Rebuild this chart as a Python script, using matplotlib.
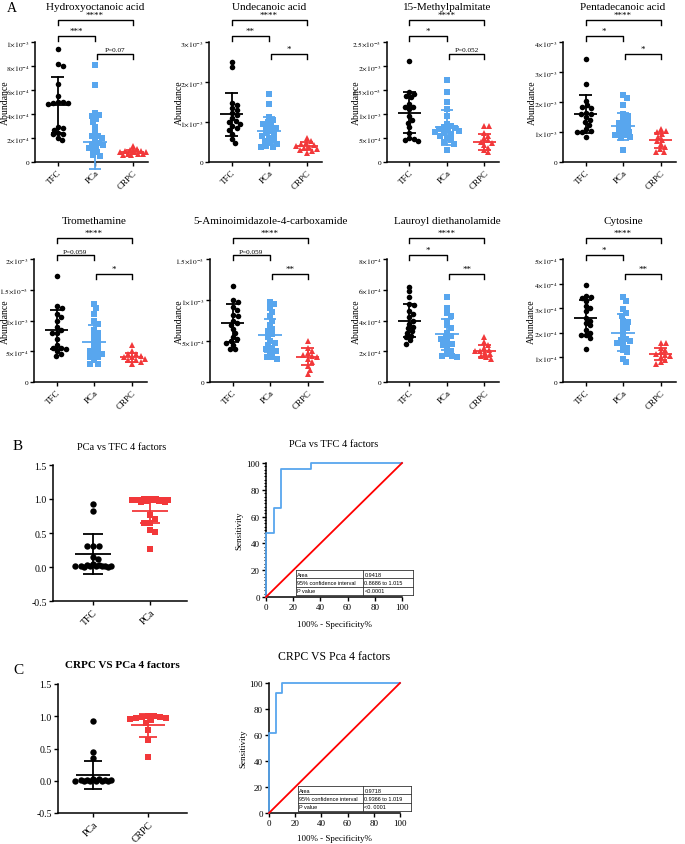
import numpy as np
import matplotlib
matplotlib.use('Agg')
import matplotlib.pyplot as plt
from matplotlib.patches import Rectangle

plt.rcParams['font.family'] = ['Liberation Serif', 'DejaVu Serif']
plt.rcParams['mathtext.fontset'] = 'stix'

W, H = 685, 845
fig = plt.figure(figsize=(W / 100, H / 100), dpi=100)

BLACK = '#000000'
BLUE = '#58A6EE'
RED = '#F2383A'

groups = ['TFC', 'PCa', 'CRPC']

# ---------------- data (panel A) ----------------
hydroxy_title = 'Hydroxyoctanoic acid'
hydroxy_scale = 1e-3
hydroxy_tfc = [0.94, 0.815, 0.80, 0.65, 0.55, 0.50, 0.50, 0.49, 0.49, 0.48, 0.29, 0.28, 0.27, 0.24, 0.23, 0.23, 0.20, 0.18]
hydroxy_pca = [0.81, 0.64, 0.41, 0.39, 0.38, 0.36, 0.33, 0.29, 0.25, 0.22, 0.22, 0.20, 0.18, 0.16, 0.15, 0.14, 0.13, 0.12, 0.10, 0.08, 0.06, 0.05]
hydroxy_crpc = [0.13, 0.11, 0.10, 0.09, 0.09, 0.08, 0.08, 0.08, 0.07, 0.07, 0.07, 0.06, 0.06]
hydroxy_mean = [0.475, 0.17, 0.083]
hydroxy_sd = [0.23, 0.23, 0.02]
hydroxy_ticks = [0, 0.2, 0.4, 0.6, 0.8, 1.0]
hydroxy_ticklabels = ['0', '2|-4', '4|-4', '6|-4', '8|-4', '1|-3']
hydroxy_sig = ['****', '***', 'P=0.07']

undec_title = 'Undecanoic acid'
undec_scale = 1e-3
undec_tfc = [2.50, 2.37, 1.47, 1.43, 1.35, 1.30, 1.22, 1.18, 1.10, 1.03, 1.00, 0.95, 0.90, 0.85, 0.80, 0.70, 0.57, 0.48]
undec_pca = [1.70, 1.45, 1.12, 1.05, 1.00, 0.95, 0.90, 0.85, 0.85, 0.78, 0.72, 0.70, 0.65, 0.60, 0.55, 0.52, 0.48, 0.45, 0.40, 0.38, 0.37]
undec_crpc = [0.60, 0.52, 0.48, 0.45, 0.42, 0.40, 0.38, 0.36, 0.33, 0.30, 0.28, 0.22]
undec_mean = [1.19, 0.78, 0.40]
undec_sd = [0.53, 0.34, 0.10]
undec_ticks = [0, 1, 2, 3]
undec_ticklabels = ['0', '1|-3', '2|-3', '3|-3']
undec_sig = ['****', '**', '*']

methyl_title = '15-Methylpalmitate'
methyl_scale = 1e-3
methyl_tfc = [2.10, 1.46, 1.42, 1.38, 1.35, 1.20, 1.15, 1.15, 1.10, 0.95, 0.88, 0.82, 0.72, 0.60, 0.50, 0.48, 0.45, 0.43]
methyl_pca = [1.70, 1.45, 1.25, 1.10, 0.95, 0.80, 0.75, 0.72, 0.70, 0.68, 0.66, 0.65, 0.63, 0.60, 0.58, 0.55, 0.50, 0.45, 0.42, 0.38, 0.25]
methyl_crpc = [0.75, 0.74, 0.60, 0.55, 0.50, 0.45, 0.42, 0.40, 0.35, 0.30, 0.25, 0.20]
methyl_mean = [1.03, 0.72, 0.42]
methyl_sd = [0.42, 0.36, 0.17]
methyl_ticks = [0, 0.5, 1.0, 1.5, 2.0, 2.5]
methyl_ticklabels = ['0', '5|-4', '1|-3', '1.5|-3', '2|-3', '2.5|-3']
methyl_sig = ['****', '*', 'P=0.052']

penta_title = 'Pentadecanoic acid'
penta_scale = 1e-3
penta_tfc = [3.45, 2.60, 2.05, 1.90, 1.85, 1.80, 1.65, 1.60, 1.60, 1.50, 1.40, 1.35, 1.25, 1.10, 1.05, 1.00, 1.00, 0.85]
penta_pca = [2.25, 2.15, 1.90, 1.60, 1.55, 1.40, 1.35, 1.30, 1.20, 1.15, 1.10, 1.05, 1.00, 0.95, 0.90, 0.90, 0.85, 0.80, 0.40]
penta_crpc = [1.10, 1.05, 1.00, 0.95, 0.85, 0.75, 0.70, 0.60, 0.50, 0.45, 0.35, 0.35]
penta_mean = [1.60, 1.20, 0.72]
penta_sd = [0.64, 0.45, 0.25]
penta_ticks = [0, 1, 2, 3, 4]
penta_ticklabels = ['0', '1|-3', '2|-3', '3|-3', '4|-3']
penta_sig = ['****', '*', '*']

trometh_title = 'Tromethamine'
trometh_scale = 1e-3
trometh_tfc = [1.72, 1.23, 1.20, 1.10, 1.05, 1.00, 0.90, 0.85, 0.80, 0.80, 0.70, 0.60, 0.55, 0.55, 0.53, 0.50, 0.45, 0.42]
trometh_pca = [1.27, 1.20, 1.10, 1.00, 0.95, 0.85, 0.80, 0.75, 0.70, 0.65, 0.60, 0.55, 0.50, 0.50, 0.45, 0.45, 0.40, 0.40, 0.35, 0.30, 0.30]
trometh_crpc = [0.60, 0.50, 0.45, 0.45, 0.42, 0.40, 0.40, 0.38, 0.36, 0.35, 0.33, 0.30]
trometh_mean = [0.85, 0.65, 0.40]
trometh_sd = [0.32, 0.27, 0.07]
trometh_ticks = [0, 0.5, 1.0, 1.5, 2.0]
trometh_ticklabels = ['0', '5|-4', '1|-3', '1.5|-3', '2|-3']
trometh_sig = ['****', 'P=0.059', '*']

aica_title = '5-Aminoimidazole-4-carboxamide'
aica_scale = 1e-3
aica_tfc = [1.17, 1.00, 0.98, 0.92, 0.88, 0.82, 0.80, 0.75, 0.72, 0.70, 0.65, 0.60, 0.55, 0.52, 0.50, 0.48, 0.45, 0.40, 0.40]
aica_pca = [0.98, 0.95, 0.90, 0.85, 0.80, 0.75, 0.70, 0.65, 0.62, 0.58, 0.55, 0.50, 0.48, 0.45, 0.42, 0.40, 0.38, 0.35, 0.30, 0.30, 0.28]
aica_crpc = [0.50, 0.42, 0.38, 0.35, 0.33, 0.32, 0.30, 0.28, 0.25, 0.20, 0.15, 0.10]
aica_mean = [0.72, 0.57, 0.31]
aica_sd = [0.23, 0.20, 0.10]
aica_ticks = [0, 0.5, 1.0, 1.5]
aica_ticklabels = ['0', '5|-4', '1|-3', '1.5|-3']
aica_sig = ['****', 'P=0.059', '**']

lauroyl_title = 'Lauroyl diethanolamide'
lauroyl_scale = 1e-4
lauroyl_tfc = [6.2, 5.9, 5.5, 5.1, 5.0, 4.6, 4.4, 4.2, 4.0, 3.8, 3.6, 3.5, 3.3, 3.2, 3.0, 2.9, 2.7, 2.5]
lauroyl_pca = [5.5, 4.8, 4.5, 4.3, 4.0, 3.7, 3.5, 3.2, 3.0, 2.9, 2.8, 2.6, 2.5, 2.4, 2.2, 2.0, 1.8, 1.7, 1.7, 1.6]
lauroyl_crpc = [2.9, 2.6, 2.4, 2.2, 2.1, 2.0, 2.0, 1.9, 1.8, 1.7, 1.6, 1.5]
lauroyl_mean = [4.0, 3.1, 2.0]
lauroyl_sd = [1.1, 1.0, 0.4]
lauroyl_ticks = [0, 2, 4, 6, 8]
lauroyl_ticklabels = ['0', '2|-4', '4|-4', '6|-4', '8|-4']
lauroyl_sig = ['****', '*', '**']

cyto_title = 'Cytosine'
cyto_scale = 1e-4
cyto_tfc = [3.95, 3.50, 3.45, 3.40, 3.30, 3.10, 3.00, 2.90, 2.60, 2.50, 2.40, 2.30, 2.10, 2.00, 1.90, 1.90, 1.80, 1.35]
cyto_pca = [3.45, 3.30, 2.95, 2.80, 2.70, 2.50, 2.45, 2.30, 2.20, 2.10, 1.90, 1.75, 1.70, 1.65, 1.60, 1.50, 1.40, 1.30, 1.20, 0.95, 0.80]
cyto_crpc = [1.60, 1.60, 1.40, 1.30, 1.20, 1.15, 1.10, 1.05, 1.00, 0.90, 0.80, 0.75]
cyto_mean = [2.60, 2.00, 1.15]
cyto_sd = [0.75, 0.75, 0.25]
cyto_ticks = [0, 1, 2, 3, 4, 5]
cyto_ticklabels = ['0', '1|-4', '2|-4', '3|-4', '4|-4', '5|-4']
cyto_sig = ['****', '*', '**']

# ---------------- data (panels B, C) ----------------
b_title = 'PCa vs TFC 4 factors'
b_groups = ['TFC', 'PCa']
b_tfc = [0.93, 0.82, 0.31, 0.31, 0.31, 0.15, 0.12, 0.04, 0.03, 0.03, 0.02, 0.02, 0.02, 0.01, 0.01, 0.01, 0.01, 0.0, 0.0]
b_pca = [1.0, 1.0, 1.0, 0.99, 0.99, 0.99, 0.98, 0.98, 0.97, 0.97, 0.96, 0.96, 0.76, 0.71, 0.65, 0.64, 0.55, 0.52, 0.27]
b_mean = [0.19, 0.83]
b_sd = [0.29, 0.19]
b_roc_fpr = [0, 0, 5.6, 5.6, 11.1, 11.1, 33.3, 33.3, 100]
b_roc_tpr = [0, 47.6, 47.6, 66.7, 66.7, 95.2, 95.2, 100, 100]
b_roc_table = [['Area', '0.9418'], ['95% confidence interval', '0.8686 to 1.015'], ['P value', '<0.0001']]

c_title = 'CRPC VS PCa 4 factors'
c_roc_title = 'CRPC VS Pca 4 factors'
c_groups = ['PCa', 'CRPC']
c_pca = [0.92, 0.45, 0.35, 0.02, 0.02, 0.01, 0.01, 0.01, 0.01, 0.0, 0.0, 0.0, 0.0, 0.0, 0.0]
c_crpc = [1.0, 1.0, 0.99, 0.99, 0.98, 0.97, 0.96, 0.94, 0.90, 0.78, 0.63, 0.37]
c_mean = [0.09, 0.86]
c_sd = [0.22, 0.18]
c_roc_fpr = [0, 0, 5, 5, 10, 10, 100]
c_roc_tpr = [0, 61.5, 61.5, 92.3, 92.3, 100, 100]
c_roc_table = [['Area', '0.9718'], ['95% confidence interval', '0.9366 to 1.019'], ['P value', '<0. 0001']]


# ---------------- helpers ----------------
def sci(lbl):
    if '|' not in lbl:
        return lbl
    m, e = lbl.split('|')
    return r'$%s{\times}10^{%s}$' % (m, e)


def add_ax(l, t, r, b):
    ax = fig.add_axes([l / W, 1 - b / H, (r - l) / W, (b - t) / H])
    ax._px = (l, t, r, b)
    return ax


def swarm(vals, ylo, yhi, hpx, unit_px, d, maxoff):
    """Beeswarm offsets computed in pixel space, capped at +-maxoff px."""
    v = np.asarray(vals, float)
    py = (v - ylo) / (yhi - ylo) * hpx
    order = np.argsort(-py)
    placed = []
    xs = np.zeros(len(v))
    step = 1.0
    cands = [0.0]
    k = 1
    while k * step <= maxoff:
        cands += [k * step, -k * step]
        k += 1
    thr = (d * 0.9) ** 2
    for i in order:
        best, bestd = 0.0, -1
        chosen = None
        for c in cands:
            md = min([(c - qx) ** 2 + (py[i] - qy) ** 2 for (qx, qy) in placed] or [1e9])
            if md >= thr:
                chosen = c
                break
            if md > bestd:
                bestd, best = md, c
        if chosen is None:
            chosen = best
        xs[i] = chosen
        placed.append((chosen, py[i]))
    return xs / unit_px


def style_axes(ax):
    for s in ['top', 'right']:
        ax.spines[s].set_visible(False)
    for s in ['left', 'bottom']:
        ax.spines[s].set_linewidth(1.1)
    ax.tick_params(width=1.0, length=3, direction='out', pad=1.5)


def dot_panel(ax, datas, means, sds, colors, markers, ylim, xlim, ms, dpx, maxoff):
    l, t, r, b = ax._px
    hpx = b - t
    unit_px = (r - l) / (xlim[1] - xlim[0])
    for i, (d, mu, sd, c, mk) in enumerate(zip(datas, means, sds, colors, markers)):
        off = swarm(d, ylim[0], ylim[1], hpx, unit_px, dpx, maxoff)
        ax.plot(i + off, d, linestyle='none', marker=mk, color=c, ms=ms,
                markeredgewidth=0, clip_on=False, zorder=3)
        ax.plot([i - 0.31, i + 0.31], [mu, mu], color=c, lw=1.3, zorder=4,
                solid_capstyle='butt', clip_on=False)
        ax.plot([i, i], [mu - sd, mu + sd], color=c, lw=1.3, zorder=4, clip_on=False)
        for yy in (mu - sd, mu + sd):
            ax.plot([i - 0.17, i + 0.17], [yy, yy], color=c, lw=1.3, zorder=4,
                    solid_capstyle='butt', clip_on=False)
    ax.set_xlim(*xlim)
    ax.set_ylim(*ylim)


def bracket(ax, x0, x1, ypx, text, fs, tick=5):
    l, t, r, b = ax._px
    hpx = b - t
    ay = (b - ypx) / hpx
    dy = tick / hpx
    trans = ax.get_xaxis_transform()
    ax.plot([x0, x0, x1, x1], [ay - dy, ay, ay, ay - dy], transform=trans, color='k', lw=1.0,
            clip_on=False)
    ax.text((x0 + x1) / 2, ay + 1.5 / hpx, text, transform=trans, ha='center', va='bottom',
            fontsize=fs, clip_on=False)


# ---------------- panel A ----------------
panels = [
    (hydroxy_title, hydroxy_scale, hydroxy_tfc, hydroxy_pca, hydroxy_crpc, hydroxy_mean, hydroxy_sd,
     hydroxy_ticks, hydroxy_ticklabels, hydroxy_sig),
    (undec_title, undec_scale, undec_tfc, undec_pca, undec_crpc, undec_mean, undec_sd,
     undec_ticks, undec_ticklabels, undec_sig),
    (methyl_title, methyl_scale, methyl_tfc, methyl_pca, methyl_crpc, methyl_mean, methyl_sd,
     methyl_ticks, methyl_ticklabels, methyl_sig),
    (penta_title, penta_scale, penta_tfc, penta_pca, penta_crpc, penta_mean, penta_sd,
     penta_ticks, penta_ticklabels, penta_sig),
    (trometh_title, trometh_scale, trometh_tfc, trometh_pca, trometh_crpc, trometh_mean, trometh_sd,
     trometh_ticks, trometh_ticklabels, trometh_sig),
    (aica_title, aica_scale, aica_tfc, aica_pca, aica_crpc, aica_mean, aica_sd,
     aica_ticks, aica_ticklabels, aica_sig),
    (lauroyl_title, lauroyl_scale, lauroyl_tfc, lauroyl_pca, lauroyl_crpc, lauroyl_mean, lauroyl_sd,
     lauroyl_ticks, lauroyl_ticklabels, lauroyl_sig),
    (cyto_title, cyto_scale, cyto_tfc, cyto_pca, cyto_crpc, cyto_mean, cyto_sd,
     cyto_ticks, cyto_ticklabels, cyto_sig),
]

row_geom = [
    dict(top=43, bottom=163, lefts=[35, 209, 387, 563], ylab=[5, 179, 356, 532], title_y=7,
         br=[21, 37, 55]),
    dict(top=260, bottom=383, lefts=[34, 210, 387, 563], ylab=[5, 179, 356, 531], title_y=222,
         br=[239, 256, 275]),
]
XL = (-0.6, 2.4)
UNIT = 37.5

for idx, p in enumerate(panels):
    title, scale, d0, d1, d2, mu, sd, ticks, tlabels, sig = p
    g = row_geom[idx // 4]
    l = g['lefts'][idx % 4]
    r = l + UNIT * (XL[1] - XL[0])
    ax = add_ax(l, g['top'], r, g['bottom'])
    ytop = ticks[-1] * scale
    datas = [np.array(d0) * scale, np.array(d1) * scale, np.array(d2) * scale]
    dot_panel(ax, datas, np.array(mu) * scale, np.array(sd) * scale,
              [BLACK, BLUE, RED], ['o', 's', '^'], (0, ytop), XL, 4.0, 5.0, 13)
    style_axes(ax)
    ax.tick_params(axis='y', pad=1.0)
    ax.set_yticks(np.array(ticks) * scale)
    ax.set_yticklabels([sci(s) for s in tlabels], fontsize=5.3)
    ax.set_xticks([0, 1, 2])
    ax.set_xticklabels(groups, fontsize=6.5, rotation=45, ha='right', va='top',
                       rotation_mode='anchor')
    ax.spines['left'].set_bounds(0, ytop)
    ax.text((g['ylab'][idx % 4] - l) / (r - l), 0.5, 'Abundance', rotation=90, transform=ax.transAxes,
            ha='center', va='center', fontsize=7)
    fig.text((l + 60) / W, 1 - g['title_y'] / H, title, ha='center', va='center', fontsize=8)
    br = g['br']
    bracket(ax, 0, 2, br[0], sig[0], 6.5)
    bracket(ax, 0, 1, br[1], sig[1], 6.5 if sig[1].startswith('*') else 5.2)
    bracket(ax, 1.05, 2, br[2], sig[2], 6.5 if sig[2].startswith('*') else 5.2)

fig.text(12 / W, 1 - 8 / H, 'A', fontsize=10, ha='center', va='center')


# ---------------- panels B & C: dot plots ----------------
def two_group(ax, datas, means, sds, colors, markers, glabels, xl):
    dot_panel(ax, datas, means, sds, colors, markers, (-0.5, 1.5), xl, 4.6, 6.0, 19)
    style_axes(ax)
    ax.set_yticks([-0.5, 0.0, 0.5, 1.0, 1.5])
    ax.set_yticklabels(['-0.5', '0.0', '0.5', '1.0', '1.5'], fontsize=7)
    ax.set_xticks([0, 1])
    ax.set_xticklabels(glabels, fontsize=7, rotation=45, ha='right', va='top', rotation_mode='anchor')


axb = add_ax(53, 466, 187, 602)
two_group(axb, [b_tfc, b_pca], b_mean, b_sd, [BLACK, RED], ['o', 's'], b_groups, (-0.70, 1.65))
fig.text(122 / W, 1 - 448 / H, b_title, ha='center', va='center', fontsize=7.5)
fig.text(18 / W, 1 - 447 / H, 'B', fontsize=11, ha='center', va='center')

axc = add_ax(58, 685, 187, 814)
two_group(axc, [c_pca, c_crpc], c_mean, c_sd, [BLACK, RED], ['o', 's'], c_groups, (-0.64, 1.71))
fig.text(122 / W, 1 - 666 / H, c_title, ha='center', va='center', fontsize=8, fontweight='bold')
fig.text(18 / W, 1 - 671 / H, 'C', fontsize=11, ha='center', va='center')


# ---------------- ROC panels ----------------
def roc_panel(ax, fpr, tpr, table, title, title_y, title_fs, sens_x, spec_y, minor,
              tx0, tx1, tsplit, ty0, ty1):
    ax.plot(fpr, tpr, color=BLUE, lw=1.3, clip_on=False, zorder=3)
    ax.plot([0, 100], [0, 100], color='#FF0000', lw=1.3, clip_on=False, zorder=3)
    ax.set_xlim(0, 100)
    ax.set_ylim(0, 100)
    style_axes(ax)
    ax.set_xticks([0, 20, 40, 60, 80, 100])
    ax.set_yticks([0, 20, 40, 60, 80, 100])
    ax.tick_params(labelsize=6.5)
    if minor:
        ax.set_yticks(np.arange(0, 101, 2.5), minor=True)
        ax.tick_params(axis='y', which='minor', length=1.8, width=0.8)
    l, t, r, b = ax._px
    rows = len(table)
    rh = (ty1 - ty0) / rows
    ax.add_patch(Rectangle((tx0, ty0), tx1 - tx0, ty1 - ty0, facecolor='white', edgecolor='none',
                           zorder=4, clip_on=False))
    for k in range(rows + 1):
        ax.plot([tx0, tx1], [ty1 - k * rh] * 2, color='#333333', lw=0.6, clip_on=False, zorder=5)
    for xx in (tx0, tsplit, tx1):
        ax.plot([xx, xx], [ty0, ty1], color='#333333', lw=0.6, clip_on=False, zorder=5)
    for k, (a, v) in enumerate(table):
        yc = ty1 - (k + 0.5) * rh
        ax.text(tx0 + 1, yc, a, fontsize=4, family='Liberation Sans', va='center', ha='left', zorder=6)
        ax.text(tsplit + 1, yc, v, fontsize=4, family='Liberation Sans', va='center', ha='left', zorder=6)
    fig.text((l + r) / 2 / W, 1 - title_y / H, title, ha='center', va='center', fontsize=title_fs)
    fig.text(sens_x / W, 1 - (t + b) / 2 / H, 'Sensitivity', rotation=90, ha='center', va='center',
             fontsize=6.5)
    fig.text((l + r) / 2 / W, 1 - spec_y / H, '100% - Specificity%', ha='center', va='center',
             fontsize=6.5)


axr1 = add_ax(266, 464, 402, 598)
roc_panel(axr1, b_roc_fpr, b_roc_tpr, b_roc_table, b_title, 445, 7.5, 239, 625, True,
          22.0, 108.0, 71.3, 1.5, 20.1)
axr2 = add_ax(269, 684, 400, 814)
roc_panel(axr2, c_roc_fpr, c_roc_tpr, c_roc_table, c_roc_title, 657, 8.5, 243, 839, False,
          22.1, 108.4, 71.8, 1.5, 20.8)

fig.savefig('out.png', dpi=100)
